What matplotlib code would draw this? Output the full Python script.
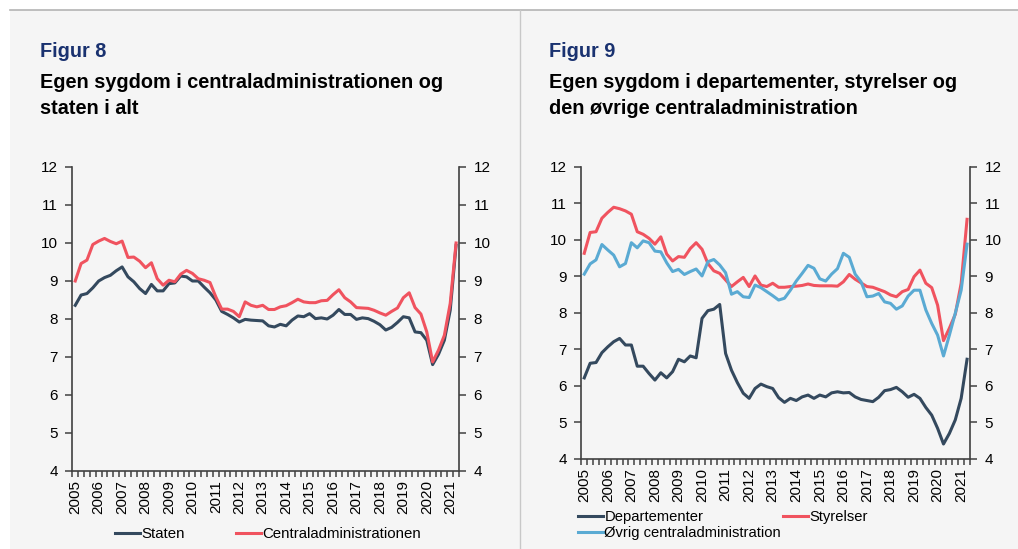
import matplotlib
matplotlib.use('Agg')
import matplotlib.pyplot as plt
from matplotlib.lines import Line2D
from matplotlib.patches import Rectangle

plt.rcParams['font.family'] = ['Liberation Sans', 'DejaVu Sans']

# Kvartaler 2005K1 - 2021K2
years = list(range(2005, 2022))
n_quarters = 66

# Figur 8
staten = [8.36, 8.63, 8.67, 8.82, 9.00, 9.09, 9.15, 9.27, 9.37, 9.11, 8.98, 8.80,
          8.67, 8.91, 8.74, 8.74, 8.93, 8.95, 9.13, 9.11, 9.00, 9.00, 8.84, 8.69,
          8.50, 8.20, 8.12, 8.03, 7.92, 7.99, 7.97, 7.96, 7.95, 7.82, 7.79, 7.86,
          7.82, 7.97, 8.08, 8.06, 8.14, 8.01, 8.03, 8.00, 8.10, 8.25, 8.12, 8.12,
          7.99, 8.03, 8.01, 7.94, 7.85, 7.71, 7.78, 7.91, 8.06, 8.03, 7.66, 7.64,
          7.44, 6.80, 7.07, 7.44, 8.23, 9.94]
centraladm = [9.00, 9.46, 9.55, 9.96, 10.05, 10.12, 10.04, 9.98, 10.05, 9.62, 9.63, 9.52,
              9.35, 9.48, 9.06, 8.89, 9.02, 8.98, 9.18, 9.28, 9.20, 9.06, 9.02, 8.96,
              8.58, 8.26, 8.26, 8.20, 8.06, 8.45, 8.36, 8.32, 8.36, 8.25, 8.25, 8.32,
              8.35, 8.43, 8.52, 8.45, 8.43, 8.43, 8.48, 8.49, 8.64, 8.77, 8.56, 8.45,
              8.30, 8.29, 8.28, 8.23, 8.16, 8.10, 8.20, 8.29, 8.56, 8.69, 8.30, 8.13,
              7.66, 6.87, 7.18, 7.57, 8.41, 10.00]

# Figur 9
departementer = [6.22, 6.62, 6.64, 6.91, 7.07, 7.21, 7.30, 7.12, 7.12, 6.54, 6.54, 6.34,
                 6.16, 6.36, 6.22, 6.39, 6.73, 6.66, 6.82, 6.77, 7.85, 8.06, 8.10, 8.23,
                 6.89, 6.43, 6.09, 5.80, 5.66, 5.93, 6.05, 5.98, 5.93, 5.68, 5.55, 5.66,
                 5.60, 5.70, 5.75, 5.66, 5.75, 5.70, 5.81, 5.84, 5.81, 5.82, 5.70, 5.63,
                 5.60, 5.57, 5.69, 5.87, 5.90, 5.96, 5.84, 5.69, 5.77, 5.66, 5.41, 5.20,
                 4.84, 4.41, 4.70, 5.07, 5.66, 6.73]
styrelser = [9.63, 10.20, 10.22, 10.59, 10.75, 10.89, 10.85, 10.79, 10.70, 10.22, 10.15, 10.04,
             9.88, 10.08, 9.61, 9.42, 9.54, 9.52, 9.76, 9.92, 9.74, 9.35, 9.15, 9.08,
             8.90, 8.72, 8.85, 8.97, 8.72, 9.01, 8.76, 8.72, 8.81, 8.70, 8.70, 8.72,
             8.73, 8.75, 8.79, 8.75, 8.74, 8.74, 8.74, 8.73, 8.85, 9.05, 8.92, 8.82,
             8.72, 8.70, 8.64, 8.58, 8.49, 8.44, 8.58, 8.64, 8.99, 9.17, 8.81, 8.69,
             8.21, 7.24, 7.58, 7.96, 8.81, 10.56]
oevrig = [9.06, 9.34, 9.45, 9.87, 9.72, 9.58, 9.26, 9.35, 9.92, 9.78, 9.97, 9.92,
          9.69, 9.67, 9.37, 9.13, 9.19, 9.05, 9.13, 9.20, 9.01, 9.40, 9.46, 9.31,
          9.10, 8.51, 8.58, 8.44, 8.42, 8.76, 8.69, 8.58, 8.47, 8.35, 8.40, 8.62,
          8.87, 9.08, 9.30, 9.22, 8.93, 8.87, 9.06, 9.21, 9.63, 9.52, 9.06, 8.85,
          8.44, 8.46, 8.53, 8.30, 8.26, 8.10, 8.19, 8.46, 8.62, 8.62, 8.08, 7.71,
          7.39, 6.82, 7.39, 7.99, 8.62, 9.88]

DARK = '#34495e'
RED = '#f0535f'
BLUE = '#5aaad3'
NAVY = '#1a3270'
BG = '#f5f5f5'
AXC = '#404040'

W, H = 1018, 549
fig = plt.figure(figsize=(W / 100, H / 100), dpi=100)
fig.patch.set_facecolor('white')

# baggrund og rammelinjer
fig.add_artist(Rectangle((10 / W, 0), (W - 10) / W, (H - 10) / H, transform=fig.transFigure,
                         facecolor=BG, edgecolor='none', zorder=-10))
fig.add_artist(Line2D([10 / W, 1], [1 - 10 / H, 1 - 10 / H], transform=fig.transFigure,
                      color='#b4b4b4', lw=1.2))
fig.add_artist(Line2D([520 / W, 520 / W], [0, 1 - 10 / H], transform=fig.transFigure,
                      color='#c8c8c8', lw=1.0))


def pix_axes(x0, x1, y_top, y_bot):
    return fig.add_axes([x0 / W, 1 - y_bot / H, (x1 - x0) / W, (y_bot - y_top) / H])


def style_axes(ax):
    ax.set_facecolor(BG)
    ax.set_xlim(-0.5, n_quarters - 0.5)
    ax.set_ylim(4, 12)
    ax.set_yticks(range(4, 13))
    ax.spines['top'].set_visible(False)
    for s in ['left', 'right', 'bottom']:
        ax.spines[s].set_color(AXC)
        ax.spines[s].set_linewidth(1.2)
    ax.yaxis.set_ticks_position('both')
    ax.tick_params(axis='y', which='both', direction='out', length=5, width=1.1, color=AXC,
                   labelleft=True, labelright=True, labelsize=11, pad=5.5)
    # årstal midt på 1. kvartal, streger mellem kvartaler
    ax.set_xticks([4 * i for i in range(len(years))])
    ax.set_xticklabels([str(y) for y in years], rotation=90)
    ax.set_xticks([q - 0.5 for q in range(n_quarters + 1)], minor=True)
    ax.tick_params(axis='x', which='major', length=0, labelsize=11, pad=6.5)
    ax.tick_params(axis='x', which='minor', direction='out', length=4, width=1.1, color=AXC)


def titles(x0, fig_no, line1, line2):
    fig.text(x0 / W, 1 - 57 / H, fig_no, color=NAVY, fontsize=14.3, fontweight='bold', va='baseline')
    fig.text(x0 / W, 1 - 88 / H, line1, color='black', fontsize=14.3, fontweight='bold', va='baseline')
    fig.text(x0 / W, 1 - 114 / H, line2, color='black', fontsize=14.3, fontweight='bold', va='baseline')


x = list(range(n_quarters))

# ---- Figur 8 ----
titles(40, 'Figur 8', 'Egen sygdom i centraladministrationen og', 'staten i alt')

ax1 = pix_axes(72.3, 459, 167, 471)
style_axes(ax1)
ax1.plot(x, staten, color=DARK, lw=2.2, label='Staten')
ax1.plot(x, centraladm, color=RED, lw=2.2, label='Centraladministrationen')
ax1.legend(loc='center left', bbox_to_anchor=(115 / W, 1 - 534 / H), bbox_transform=fig.transFigure,
           ncol=2, frameon=False, fontsize=10.8, handlelength=1.65, handletextpad=0.1,
           columnspacing=3.4, borderaxespad=0, borderpad=0)

# ---- Figur 9 ----
titles(549, 'Figur 9', 'Egen sygdom i departementer, styrelser og', 'den øvrige centraladministration')

ax2 = pix_axes(581.3, 970, 166.7, 459)
style_axes(ax2)
l1, = ax2.plot(x, departementer, color=DARK, lw=2.2, label='Departementer')
l2, = ax2.plot(x, styrelser, color=RED, lw=2.2, label='Styrelser')
l3, = ax2.plot(x, oevrig, color=BLUE, lw=2.2, label='Øvrig centraladministration')
ax2.legend(handles=[l1, l3, l2], loc='center left', bbox_to_anchor=(578 / W, 1 - 525 / H),
           bbox_transform=fig.transFigure, ncol=2, frameon=False, fontsize=10.6,
           handlelength=1.7, handletextpad=0.1, columnspacing=0.1, labelspacing=0.15,
           borderaxespad=0, borderpad=0)

fig.savefig('out.png', dpi=100, facecolor=fig.get_facecolor())
